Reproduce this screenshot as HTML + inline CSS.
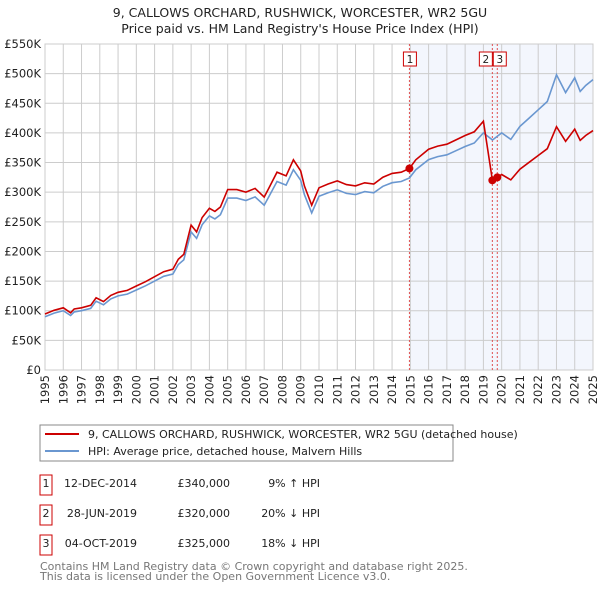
<!DOCTYPE html>
<html><head><meta charset="utf-8"><style>
body{margin:0;background:#fff;font-family:"DejaVu Sans","Liberation Sans",sans-serif;}
svg text{font-family:"DejaVu Sans","Liberation Sans",sans-serif;}
</style></head><body>
<svg id="c" width="600" height="590" xmlns="http://www.w3.org/2000/svg">
<text x="300" y="17" font-size="12.5" text-anchor="middle" fill="#222">9, CALLOWS ORCHARD, RUSHWICK, WORCESTER, WR2 5GU</text>
<text x="300" y="33" font-size="12.5" text-anchor="middle" fill="#222">Price paid vs. HM Land Registry's House Price Index (HPI)</text>
<g id="plot"></g>
<g>
<rect x="40" y="425" width="413" height="36" fill="#fff" stroke="#888" stroke-width="1"/>
<line x1="45" y1="434" x2="79" y2="434" stroke="#cc0000" stroke-width="2"/>
<text x="88" y="438" font-size="11" fill="#222">9, CALLOWS ORCHARD, RUSHWICK, WORCESTER, WR2 5GU (detached house)</text>
<line x1="45" y1="451" x2="79" y2="451" stroke="#6a97d0" stroke-width="2"/>
<text x="88" y="455" font-size="11" fill="#222">HPI: Average price, detached house, Malvern Hills</text>
</g>
<g font-size="11" fill="#222">
<rect x="40" y="475" width="12" height="20" fill="#fff" stroke="#cc0000"/><text x="46" y="487" text-anchor="middle">1</text>
<text x="137" y="487" text-anchor="end">12-DEC-2014</text><text x="230" y="487" text-anchor="end">£340,000</text><text x="320" y="487" text-anchor="end">9% ↑ HPI</text>
<rect x="40" y="505" width="12" height="20" fill="#fff" stroke="#cc0000"/><text x="46" y="517" text-anchor="middle">2</text>
<text x="137" y="517" text-anchor="end">28-JUN-2019</text><text x="230" y="517" text-anchor="end">£320,000</text><text x="320" y="517" text-anchor="end">20% ↓ HPI</text>
<rect x="40" y="535" width="12" height="20" fill="#fff" stroke="#cc0000"/><text x="46" y="547" text-anchor="middle">3</text>
<text x="137" y="547" text-anchor="end">04-OCT-2019</text><text x="230" y="547" text-anchor="end">£325,000</text><text x="320" y="547" text-anchor="end">18% ↓ HPI</text>
</g>
<text x="40" y="570" font-size="11" fill="#777">Contains HM Land Registry data © Crown copyright and database right 2025.</text>
<text x="40" y="580" font-size="11" fill="#777">This data is licensed under the Open Government Licence v3.0.</text>
</svg>
<script>
const hpiYears=[1995,1995.5,1996,1996.4,1996.6,1997,1997.5,1997.8,1998.2,1998.6,1999,1999.5,2000,2000.5,2001,2001.5,2002,2002.3,2002.6,2003,2003.3,2003.6,2004,2004.3,2004.6,2005,2005.5,2006,2006.5,2007,2007.3,2007.7,2008.2,2008.6,2009,2009.2,2009.6,2010,2010.5,2011,2011.5,2012,2012.5,2013,2013.5,2014,2014.5,2014.95,2015.3,2016,2016.5,2017,2017.5,2018,2018.5,2019,2019.5,2020,2020.5,2021,2021.5,2022,2022.5,2023,2023.5,2024,2024.3,2024.6,2025];
const hpiValues=[90,96,100,92,98,100,104,116,110,120,125,128,135,142,150,158,162,178,186,233,222,245,260,255,262,290,290,286,292,278,295,318,312,338,320,296,265,293,299,304,298,296,301,299,310,316,318,324,338,355,360,363,370,377,383,400,388,400,389,411,425,439,453,498,468,493,470,480,490];
const saleDates=[2014.95,2019.49,2019.76];
const salePrices=[340,320,325];
const saleLabels=["1","2","3"];
const yTicks=[0,50,100,150,200,250,300,350,400,450,500,550];
const yTickLabels=["£0","£50K","£100K","£150K","£200K","£250K","£300K","£350K","£400K","£450K","£500K","£550K"];
const xTicks=[1995,1996,1997,1998,1999,2000,2001,2002,2003,2004,2005,2006,2007,2008,2009,2010,2011,2012,2013,2014,2015,2016,2017,2018,2019,2020,2021,2022,2023,2024,2025];

const NS="http://www.w3.org/2000/svg";
const X0=45,X1=593,Y0=370,Y1=44;
const sx=t=>X0+(t-1995)/30*(X1-X0);
const sy=v=>Y0-v/550*(Y0-Y1);
const g=document.getElementById('plot');
function mk(tag,a){const e=document.createElementNS(NS,tag);for(const k in a)e.setAttribute(k,a[k]);g.appendChild(e);return e;}
function hpiAt(t){for(let i=0;i<hpiYears.length-1;i++){if(t<=hpiYears[i+1]){const f=(t-hpiYears[i])/(hpiYears[i+1]-hpiYears[i]);return hpiValues[i]+f*(hpiValues[i+1]-hpiValues[i]);}}return hpiValues[hpiValues.length-1];}
let sh=mk('rect',{x:sx(saleDates[0]),y:Y1,width:X1-sx(saleDates[0]),height:Y0-Y1,fill:'#eef2fc',opacity:0.7});


yTicks.forEach((v,i)=>{
 let l=mk('line',{x1:X0,x2:X1,y1:sy(v),y2:sy(v),stroke:'#ccc','stroke-width':1});
 
 
 let t=mk('text',{x:X0-4,y:sy(v)+4,'font-size':11.5,'text-anchor':'end',fill:'#222'});
 t.textContent=yTickLabels[i];
 
 
});
xTicks.forEach(y=>{
 let l=mk('line',{x1:sx(y),x2:sx(y),y1:Y1,y2:Y0,stroke:'#ccc','stroke-width':1});
 
 
 let t=mk('text',{x:0,y:0,'font-size':11.5,'text-anchor':'end',fill:'#222',transform:`translate(${sx(y)+4},${Y0+5}) rotate(-90)`});
 t.textContent=y;
 
 
});
let bd=mk('rect',{x:X0,y:Y1,width:X1-X0,height:Y0-Y1,fill:'none',stroke:'#ccc'});


saleDates.forEach(d=>{
 let l=mk('line',{x1:sx(d),x2:sx(d),y1:Y1,y2:Y0,stroke:'#e05050','stroke-width':1,'stroke-dasharray':'2,2'});
 
 
});
let hp=hpiYears.map((t,i)=>`${sx(t).toFixed(1)},${sy(hpiValues[i]).toFixed(1)}`).join(' ');
let hl=mk('polyline',{points:hp,fill:'none',stroke:'#6a97d0','stroke-width':1.6});


const ts=[...new Set([...hpiYears,...saleDates])].sort((a,b)=>a-b);
const pts=[];
ts.forEach(t=>{
 let k=0;for(let i=0;i<saleDates.length;i++)if(t>=saleDates[i])k=i;
 let ratio=salePrices[k]/hpiAt(saleDates[k]);
 pts.push([t,hpiAt(t)*ratio]);
});
let pl=mk('polyline',{points:pts.map(p=>`${sx(p[0]).toFixed(1)},${sy(p[1]).toFixed(1)}`).join(' '),fill:'none',stroke:'#cc0000','stroke-width':1.6});


saleDates.forEach((d,i)=>{
 let c=mk('circle',{cx:sx(d),cy:sy(salePrices[i]),r:4,fill:'#cc0000'});
 
 
});
saleDates.forEach((d,i)=>{
 let off=i===1?-7:(i===2?2:0);
 let bx=sx(d)+off-6;
 let r=mk('rect',{x:bx,y:52,width:13,height:14,fill:'#fff',stroke:'#cc0000'});
 
 
 let t=mk('text',{x:bx+6.5,y:63,'font-size':10.5,'text-anchor':'middle',fill:'#222'});
 t.textContent=saleLabels[i];
 
 
});
</script>
</body></html>
